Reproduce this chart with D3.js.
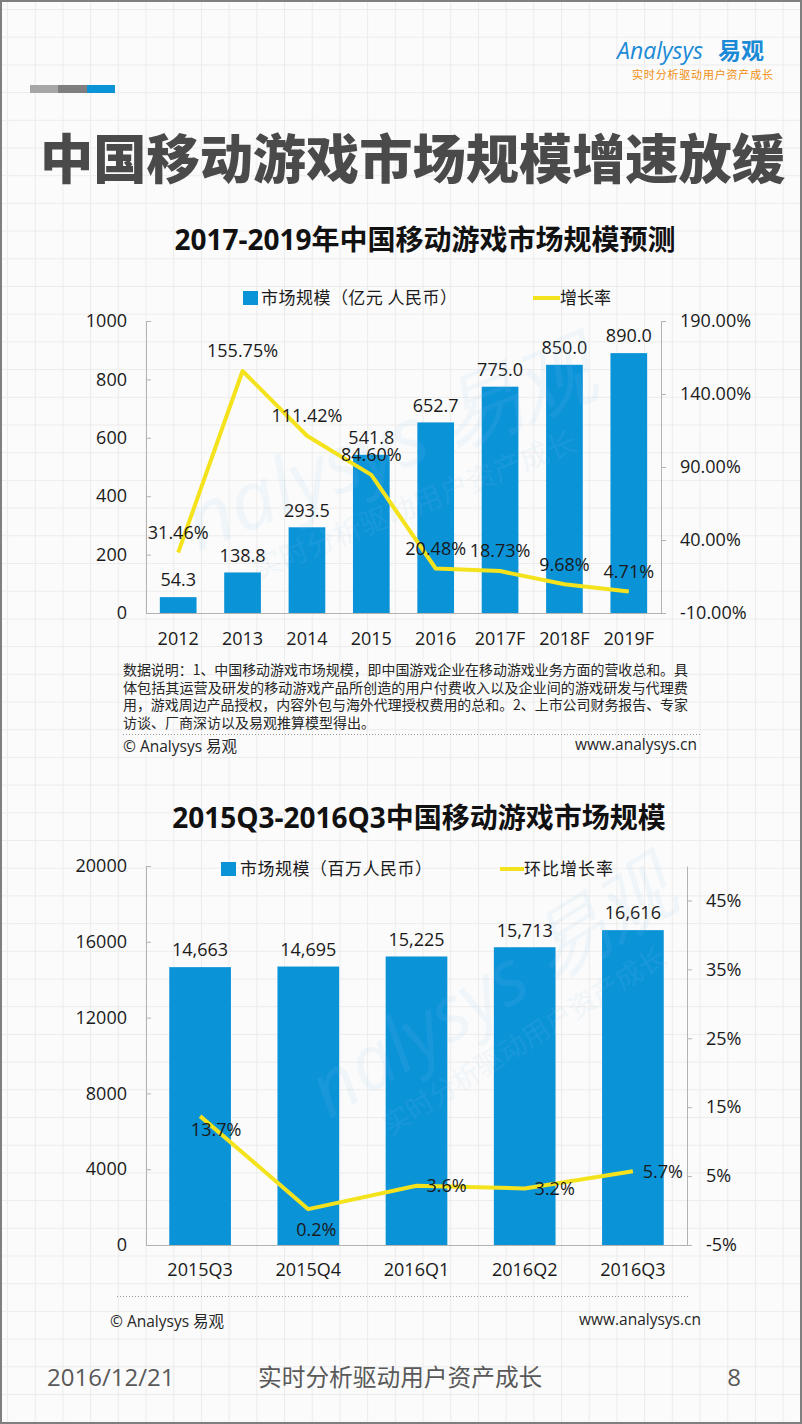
<!DOCTYPE html>
<html><head><meta charset="utf-8">
<script src="https://cdn.jsdelivr.net/npm/d3@7"></script>
<style>
html,body{margin:0;padding:0;background:#fbfbfb;}
svg{display:block;}
</style></head>
<body>
<svg id="c" width="802" height="1424"></svg>
<script>
// ---------- data ----------
const years = ["2012","2013","2014","2015","2016","2017F","2018F","2019F"];
const marketSize = [54.3,138.8,293.5,541.8,652.7,775.0,850.0,890.0];
const growthRate = [31.46,155.75,111.42,84.60,20.48,18.73,9.68,4.71];
const sizeTicks1 = [0,200,400,600,800,1000];
const rateTicks1 = [-10,40,90,140,190];

const quarters = ["2015Q3","2015Q4","2016Q1","2016Q2","2016Q3"];
const quarterSize = [14663,14695,15225,15713,16616];
const qoqRate = [13.7,0.2,3.6,3.2,5.7];
const sizeTicks2 = [0,4000,8000,12000,16000,20000];
const rateTicks2 = [-5,5,15,25,35,45];

const noteLines = [
 "数据说明：1、中国移动游戏市场规模，即中国游戏企业在移动游戏业务方面的营收总和。具",
 "体包括其运营及研发的移动游戏产品所创造的用户付费收入以及企业间的游戏研发与代理费",
 "用，游戏周边产品授权，内容外包与海外代理授权费用的总和。2、上市公司财务报告、专家",
 "访谈、厂商深访以及易观推算模型得出。"
];

// ---------- style ----------
const BLUE = "#0b93d8", YEL = "#f4e31c", AX = "#b3b3b3", TXT = "#1a1a1a";
const FONT = "'Open Sans','Noto Sans CJK SC',sans-serif";
const CJK = "'Noto Sans CJK SC','Open Sans',sans-serif";
const q2LabelOffset = [[16,14],[8,21],[30,0],[30,0],[30,0]];

const svg = d3.select("#c");
const W = 802, H = 1424;

// background grid
const defs = svg.append("defs");
const pat = defs.append("pattern").attr("id","grid").attr("patternUnits","userSpaceOnUse")
  .attr("width",27.7).attr("height",27.7).attr("x",7).attr("y",9);
pat.append("rect").attr("width",27.7).attr("height",27.7).attr("fill","#fbfbfb");
pat.append("path").attr("d","M0 0.5H27.7M0.5 0V27.7").attr("stroke","#ececec").attr("stroke-width",1);
svg.append("rect").attr("width",W).attr("height",H).attr("fill","url(#grid)");

// header: logo
svg.append("text").attr("x",617).attr("y",59).attr("font-family","'Open Sans',sans-serif")
  .attr("font-size",23).attr("font-style","italic").attr("fill","#1b8ad6").text("Analysys");
svg.append("text").attr("x",718).attr("y",59).attr("font-family",CJK).attr("font-weight","bold")
  .attr("font-size",23).attr("fill","#1b8ad6").text("易观");
svg.append("text").attr("x",632).attr("y",79).attr("font-family",CJK)
  .attr("font-size",11).attr("fill","#ef8f10").attr("textLength",141).text("实时分析驱动用户资产成长");

// header bars
[["#a6a6a6",30,28],["#7f7f7f",58,29],["#0b93d8",87,28]].forEach(d=>{
  svg.append("rect").attr("x",d[1]).attr("y",85).attr("width",d[2]).attr("height",8).attr("fill",d[0]);
});

// main title
svg.append("text").attr("x",40).attr("y",179).attr("font-family",CJK).attr("font-weight",900)
  .attr("font-size",53).attr("fill","#4a4a4a").attr("textLength",745).attr("lengthAdjust","spacingAndGlyphs")
  .text("中国移动游戏市场规模增速放缓");

// watermark helper
function watermark(cx, cy, ang, size){
  const g = svg.append("g").attr("transform",`translate(${cx},${cy}) rotate(${ang})`).attr("opacity",0.1);
  g.append("text").attr("text-anchor","middle").attr("font-family","'Open Sans',sans-serif").attr("font-style","italic")
    .attr("font-size",size).attr("fill","#8cc8ee").text("nalysys 易观");
  g.append("text").attr("text-anchor","middle").attr("y",size*0.6).attr("font-family",CJK)
    .attr("font-size",size*0.36).attr("fill","#8cc8ee").text("实时分析驱动用户资产成长");
}

// ---------- chart 1 ----------
const x1 = d3.scaleBand().domain(years).range([146,661]).paddingInner(0.43).paddingOuter(0.215);
const y1 = d3.scaleLinear().domain([0,1000]).range([613,321]);
const r1 = d3.scaleLinear().domain([-10,190]).range([613,321]);

svg.append("text").attr("x",425).attr("y",250).attr("text-anchor","middle").attr("font-family",FONT)
  .attr("font-weight","bold").attr("font-size",28).attr("fill","#111").text("2017-2019年中国移动游戏市场规模预测");

// legend 1
svg.append("rect").attr("x",243).attr("y",291).attr("width",15).attr("height",14).attr("fill",BLUE);
svg.append("text").attr("x",261).attr("y",298).attr("dy","0.35em").attr("font-family",CJK).attr("font-size",17)
  .attr("fill",TXT).attr("textLength",196).text("市场规模（亿元 人民币）");
svg.append("line").attr("x1",533).attr("x2",560).attr("y1",298).attr("y2",298).attr("stroke",YEL).attr("stroke-width",4);
svg.append("text").attr("x",560).attr("y",298).attr("dy","0.35em").attr("font-family",CJK).attr("font-size",17)
  .attr("fill",TXT).text("增长率");

function styleAxis(g, size){
  g.select(".domain").attr("stroke",AX);
  g.selectAll(".tick line").attr("stroke",AX);
  g.selectAll(".tick text").attr("font-family",FONT).attr("font-size",size).attr("fill",TXT);
  g.attr("font-family",null).attr("font-size",null);
}

// bars
svg.append("g").selectAll("rect").data(marketSize).join("rect")
  .attr("x",(d,i)=>x1(years[i])).attr("width",x1.bandwidth())
  .attr("y",d=>y1(d)).attr("height",d=>y1(0)-y1(d)).attr("fill",BLUE);

// axes
styleAxis(svg.append("g").attr("transform","translate(146,0)")
  .call(d3.axisLeft(y1).tickValues(sizeTicks1).tickFormat(d3.format("d")).tickSizeInner(-5).tickSizeOuter(0).tickPadding(19)), 18);
styleAxis(svg.append("g").attr("transform","translate(661,0)")
  .call(d3.axisRight(r1).tickValues(rateTicks1).tickSizeInner(5).tickSizeOuter(0).tickPadding(14)
  .tickFormat(d=>d.toFixed(2)+"%")), 18);
styleAxis(svg.append("g").attr("transform","translate(0,613)")
  .call(d3.axisBottom(x1).tickSize(0).tickPadding(19)), 18);

// bar labels
svg.append("g").selectAll("text").data(marketSize).join("text")
  .attr("x",(d,i)=>x1(years[i])+x1.bandwidth()/2).attr("y",d=>y1(d)-17).attr("dy","0.35em")
  .attr("text-anchor","middle").attr("font-family",FONT).attr("font-size",18).attr("fill",TXT)
  .text(d=>d.toFixed(1));

watermark(400,470,-22,80);

// line
const line1 = d3.line().x((d,i)=>x1(years[i])+x1.bandwidth()/2).y(d=>r1(d));
svg.append("path").datum(growthRate).attr("d",line1).attr("fill","none").attr("stroke",YEL)
  .attr("stroke-width",4).attr("stroke-linejoin","round");
svg.append("g").selectAll("text").data(growthRate).join("text")
  .attr("x",(d,i)=>x1(years[i])+x1.bandwidth()/2).attr("y",d=>r1(d)-20).attr("dy","0.35em")
  .attr("text-anchor","middle").attr("font-family",FONT).attr("font-size",18).attr("fill",TXT)
  .text(d=>d.toFixed(2)+"%");

// note
noteLines.forEach((t,i)=>{
  const el = svg.append("text").attr("x",123).attr("y",675+i*17.5).attr("font-family",CJK)
    .attr("font-size",14).attr("fill","#262626").text(t);
  if(i<3) el.attr("textLength",565).attr("lengthAdjust","spacingAndGlyphs");
});
svg.append("line").attr("x1",123).attr("x2",700).attr("y1",734.5).attr("y2",734.5)
  .attr("stroke","#9a9a9a").attr("stroke-dasharray","1,2");
svg.append("text").attr("x",123).attr("y",752).attr("font-family",FONT).attr("font-size",15.5).attr("fill","#262626").text("© Analysys 易观");
svg.append("text").attr("x",697).attr("y",750).attr("text-anchor","end").attr("font-family",FONT).attr("font-size",15.5).attr("fill","#262626").text("www.analysys.cn");

// ---------- chart 2 ----------
const x2 = d3.scaleBand().domain(quarters).range([146,687]).paddingInner(0.43).paddingOuter(0.215);
const y2 = d3.scaleLinear().domain([0,20000]).range([1245,866]);
const r2 = d3.scaleLinear().domain([-5,50]).range([1245,866]);

svg.append("text").attr("x",419).attr("y",828).attr("text-anchor","middle").attr("font-family",FONT)
  .attr("font-weight","bold").attr("font-size",28).attr("fill","#111").text("2015Q3-2016Q3中国移动游戏市场规模");

svg.append("rect").attr("x",221).attr("y",862).attr("width",15).attr("height",14).attr("fill",BLUE);
svg.append("text").attr("x",240).attr("y",869).attr("dy","0.35em").attr("font-family",CJK).attr("font-size",17)
  .attr("fill",TXT).attr("textLength",192).text("市场规模（百万人民币）");
svg.append("line").attr("x1",500).attr("x2",524).attr("y1",869).attr("y2",869).attr("stroke",YEL).attr("stroke-width",4);
svg.append("text").attr("x",524).attr("y",869).attr("dy","0.35em").attr("font-family",CJK).attr("font-size",17)
  .attr("fill",TXT).attr("textLength",89).text("环比增长率");

svg.append("g").selectAll("rect").data(quarterSize).join("rect")
  .attr("x",(d,i)=>x2(quarters[i])).attr("width",x2.bandwidth())
  .attr("y",d=>y2(d)).attr("height",d=>y2(0)-y2(d)).attr("fill",BLUE);

styleAxis(svg.append("g").attr("transform","translate(146,0)")
  .call(d3.axisLeft(y2).tickValues(sizeTicks2).tickFormat(d3.format("d")).tickSizeInner(-5).tickSizeOuter(0).tickPadding(19)), 18);
styleAxis(svg.append("g").attr("transform","translate(687,0)")
  .call(d3.axisRight(r2).tickValues(rateTicks2).tickSizeInner(5).tickSizeOuter(0).tickPadding(14)
  .tickFormat(d=>d+"%")), 18);
styleAxis(svg.append("g").attr("transform","translate(0,1245)")
  .call(d3.axisBottom(x2).tickSize(0).tickPadding(18)), 18);

svg.append("g").selectAll("text").data(quarterSize).join("text")
  .attr("x",(d,i)=>x2(quarters[i])+x2.bandwidth()/2).attr("y",d=>y2(d)-17).attr("dy","0.35em")
  .attr("text-anchor","middle").attr("font-family",FONT).attr("font-size",18).attr("fill",TXT)
  .text(d=>d3.format(",")(d));

watermark(505,1010,-32,76);

const line2 = d3.line().x((d,i)=>x2(quarters[i])+x2.bandwidth()/2).y(d=>r2(d));
svg.append("path").datum(qoqRate).attr("d",line2).attr("fill","none").attr("stroke",YEL)
  .attr("stroke-width",4).attr("stroke-linejoin","round");
svg.append("g").selectAll("text").data(qoqRate).join("text")
  .attr("x",(d,i)=>x2(quarters[i])+x2.bandwidth()/2+q2LabelOffset[i][0])
  .attr("y",(d,i)=>r2(d)+q2LabelOffset[i][1]).attr("dy","0.35em")
  .attr("text-anchor","middle").attr("font-family",FONT).attr("font-size",18).attr("fill",TXT)
  .text(d=>d.toFixed(1)+"%");

svg.append("line").attr("x1",117).attr("x2",690).attr("y1",1296.5).attr("y2",1296.5)
  .attr("stroke","#9a9a9a").attr("stroke-dasharray","1,2");
svg.append("text").attr("x",110).attr("y",1327).attr("font-family",FONT).attr("font-size",15.5).attr("fill","#262626").text("© Analysys 易观");
svg.append("text").attr("x",701).attr("y",1325).attr("text-anchor","end").attr("font-family",FONT).attr("font-size",15.5).attr("fill","#262626").text("www.analysys.cn");

// footer
svg.append("text").attr("x",47).attr("y",1386).attr("font-family",FONT).attr("font-size",24).attr("fill","#595959").text("2016/12/21");
svg.append("text").attr("x",258).attr("y",1386).attr("font-family",CJK).attr("font-size",23.7).attr("fill","#595959").text("实时分析驱动用户资产成长");
svg.append("text").attr("x",734).attr("y",1386).attr("text-anchor","middle").attr("font-family",FONT).attr("font-size",24).attr("fill","#595959").text("8");

// border
svg.append("rect").attr("x",1).attr("y",1).attr("width",W-2).attr("height",H-2).attr("fill","none")
  .attr("stroke","#7f7f7f").attr("stroke-width",2);
</script>
</body></html>
